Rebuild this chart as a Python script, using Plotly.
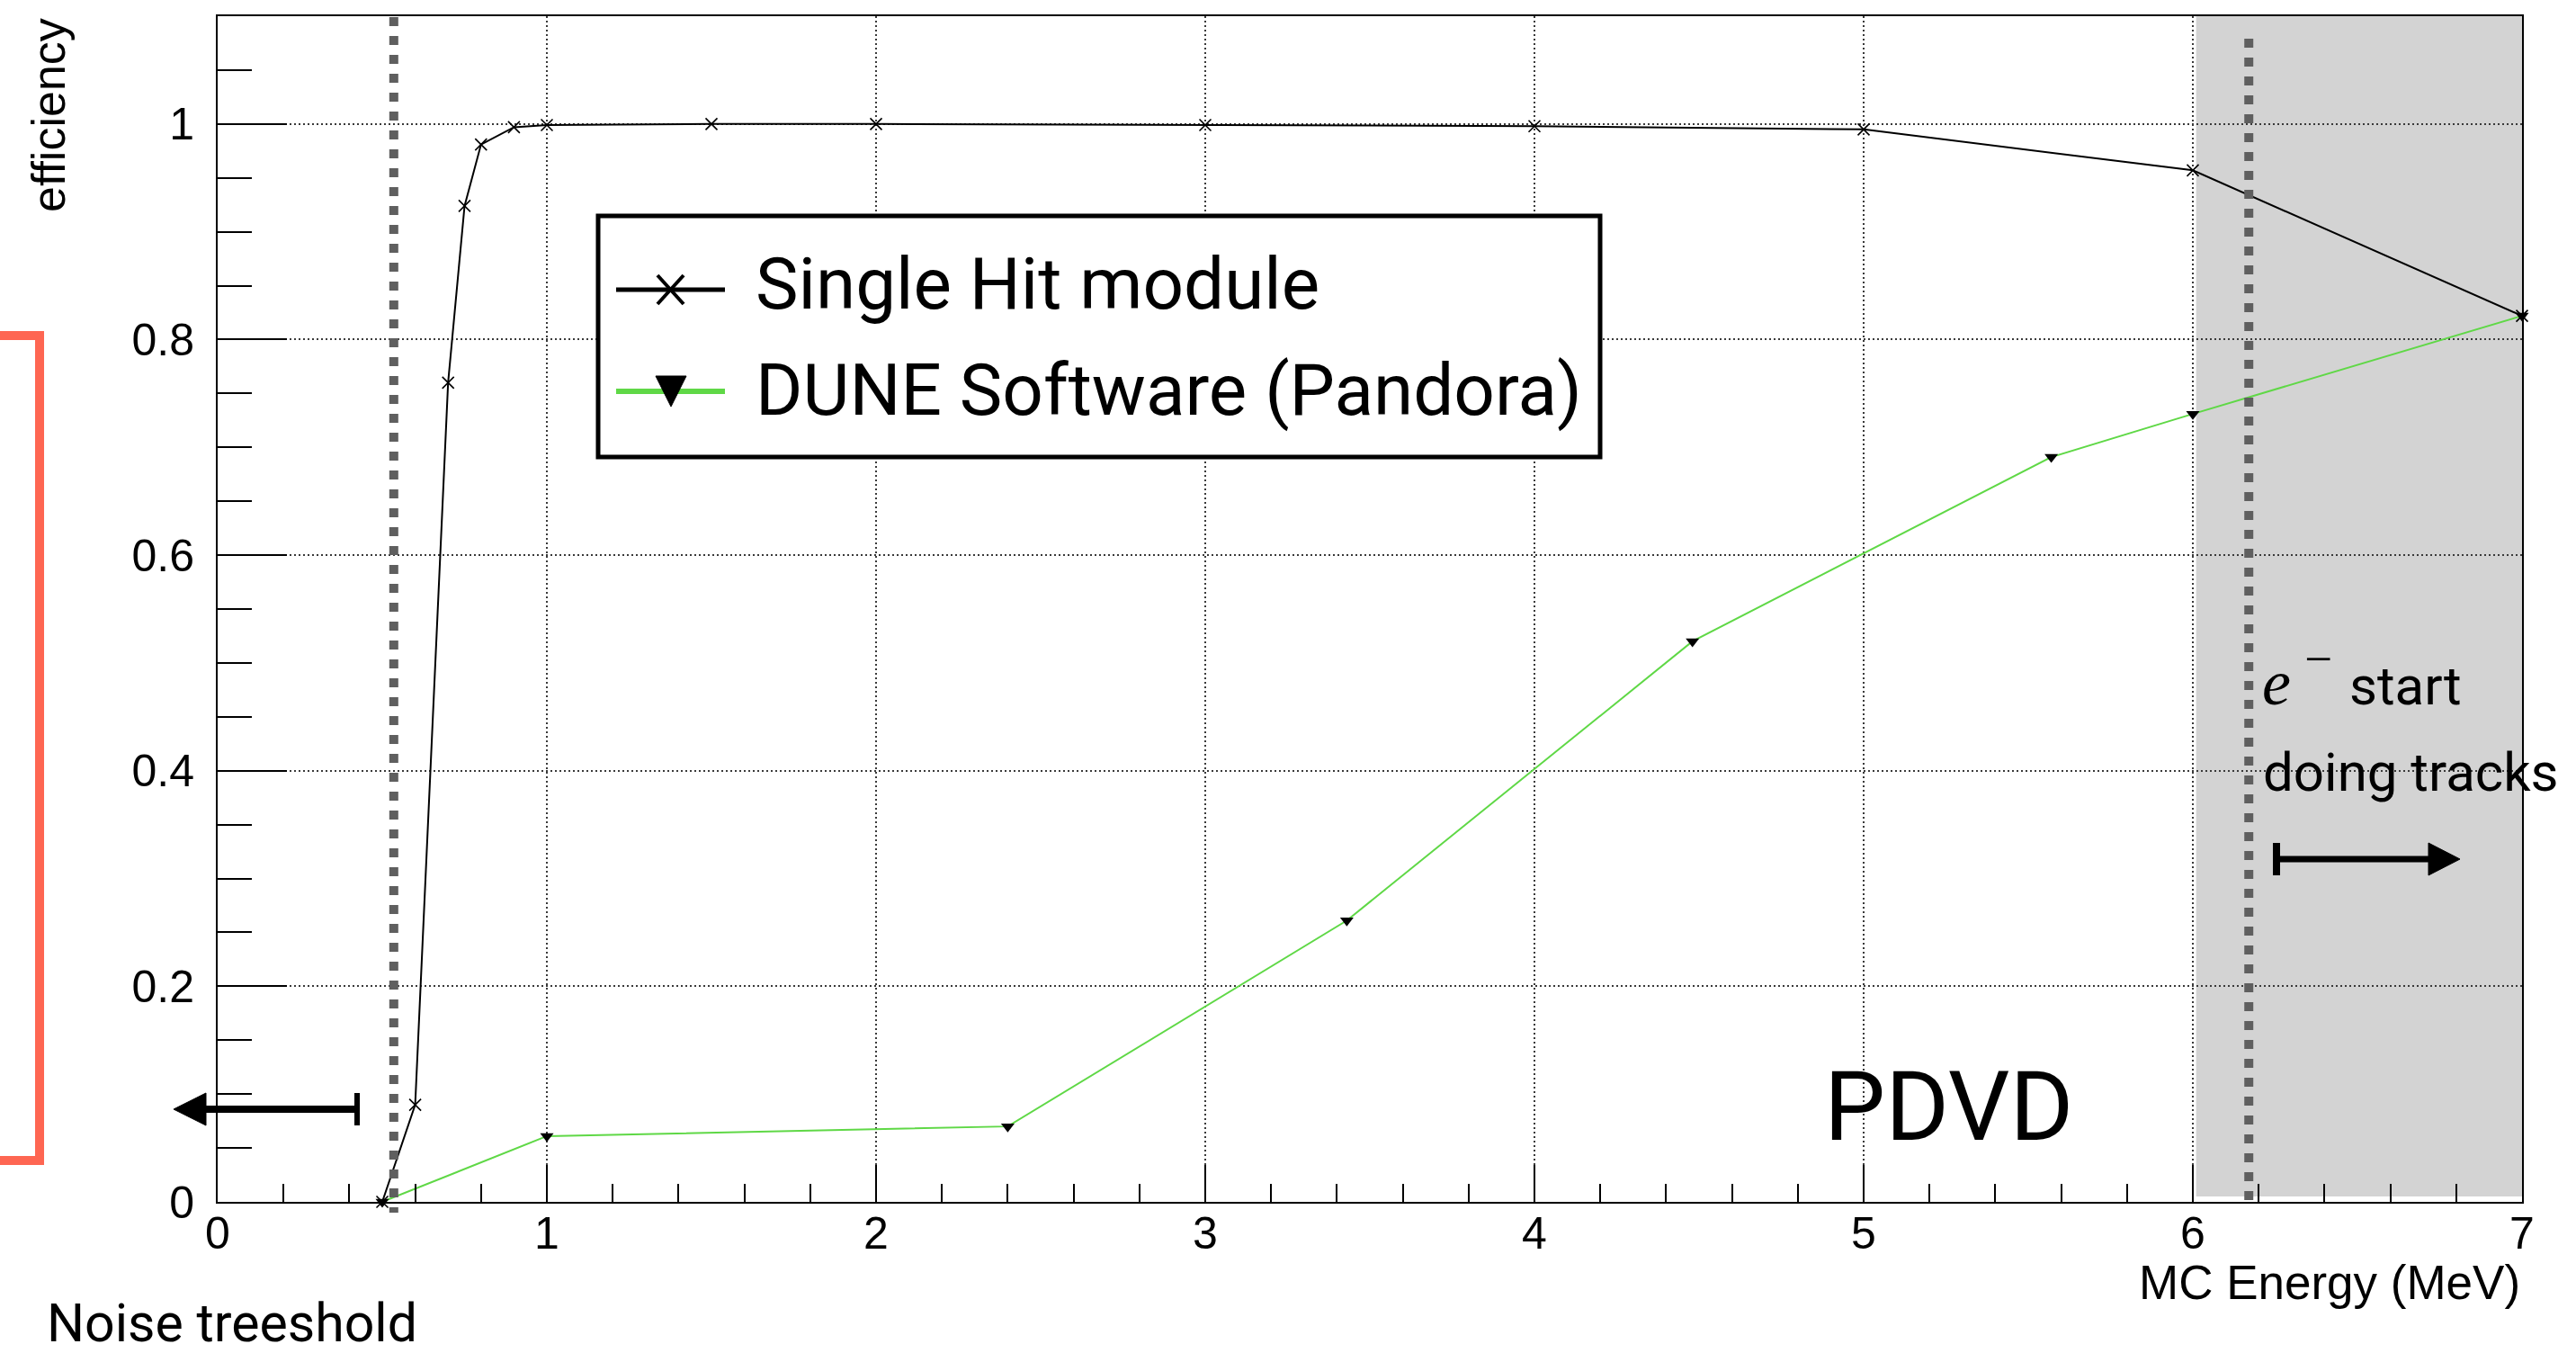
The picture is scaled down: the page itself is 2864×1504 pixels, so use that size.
import plotly.graph_objects as go

# ---- data -------------------------------------------------------------
energy_single = [0.5, 0.6, 0.7, 0.75, 0.8, 0.9, 1.0, 1.5, 2.0, 3.0, 4.0, 5.0, 6.0, 7.0]
eff_single = [0.0, 0.09, 0.76, 0.924, 0.981, 0.997, 0.999, 1.0, 1.0, 0.999, 0.998, 0.995, 0.957, 0.822]

energy_pandora = [0.5, 1.0, 2.4, 3.43, 4.48, 5.57, 6.0, 7.0]
eff_pandora = [0.0, 0.061, 0.070, 0.261, 0.520, 0.691, 0.731, 0.822]

x_ticks = [0, 1, 2, 3, 4, 5, 6, 7]
y_ticks = [0, 0.2, 0.4, 0.6, 0.8, 1.0]

NOISE_THRESHOLD = 0.535   # MeV
TRACK_ONSET = 6.17        # MeV
TRACK_REGION = (6.01, 7.0)

# ---- canvas geometry --------------------------------------------------
W, H = 2864, 1504
ML, MR, MT, MB = 242, 60, 18, 168
PW, PH = W - ML - MR, H - MT - MB
X_RANGE = (0.0, 7.0)
Y_RANGE = (0.0, 1.1)


def px(x):
    """canvas pixel column -> paper x"""
    return (x - ML) / PW


def py(y):
    """canvas pixel row -> paper y"""
    return (H - MB - y) / PH


def dx(v):
    """data x -> paper x"""
    return (v - X_RANGE[0]) / (X_RANGE[1] - X_RANGE[0])


AXIS_FONT = "Liberation Sans, Arial, sans-serif"
LABEL_FONT = "Roboto, sans-serif"
MATH_FONT = "Liberation Serif, serif"
GREEN = "#5fd846"

fig = go.Figure()

fig.add_trace(go.Scatter(
    x=energy_single, y=eff_single, mode="lines+markers",
    name="Single Hit module",
    line=dict(color="black", width=2),
    marker=dict(symbol="x-thin", size=13, color="black",
                line=dict(width=1.6, color="black")),
    cliponaxis=False, showlegend=False,
))
fig.add_trace(go.Scatter(
    x=energy_pandora, y=eff_pandora, mode="lines+markers",
    name="DUNE Software (Pandora)",
    line=dict(color=GREEN, width=2),
    marker=dict(symbol="triangle-down", size=13, color="black"),
    cliponaxis=False, showlegend=False,
))

shapes = []

# shaded track region
shapes.append(dict(type="rect", xref="x", yref="y",
                   x0=TRACK_REGION[0], x1=TRACK_REGION[1], y0=0.005, y1=Y_RANGE[1],
                   fillcolor="#d3d3d3", line=dict(width=0), layer="below"))

# thick dashed markers for the threshold and track onset
shapes.append(dict(type="line", xref="paper", yref="paper",
                   x0=dx(NOISE_THRESHOLD), x1=dx(NOISE_THRESHOLD), y0=py(19), y1=py(1348),
                   line=dict(color="#5f5f5f", width=10, dash="10px,11px"), layer="above"))
shapes.append(dict(type="line", xref="paper", yref="paper",
                   x0=dx(TRACK_ONSET), x1=dx(TRACK_ONSET), y0=py(43), y1=py(1334),
                   line=dict(color="#5f5f5f", width=10, dash="10px,11px"), layer="above"))

# legend box
shapes.append(dict(type="rect", xref="paper", yref="paper",
                   x0=px(665), x1=px(1779), y0=py(240), y1=py(508),
                   fillcolor="white", line=dict(color="black", width=5), layer="above"))
# legend row 1: black line with x marker
shapes.append(dict(type="line", xref="paper", yref="paper",
                   x0=px(685), x1=px(806), y0=py(322), y1=py(322),
                   line=dict(color="black", width=5), layer="above"))
shapes.append(dict(type="line", xref="paper", yref="paper",
                   x0=px(731), x1=px(760), y0=py(306), y1=py(338),
                   line=dict(color="black", width=4), layer="above"))
shapes.append(dict(type="line", xref="paper", yref="paper",
                   x0=px(731), x1=px(760), y0=py(338), y1=py(306),
                   line=dict(color="black", width=4), layer="above"))
# legend row 2: green line with down triangle
shapes.append(dict(type="line", xref="paper", yref="paper",
                   x0=px(685), x1=px(806), y0=py(435), y1=py(435),
                   line=dict(color=GREEN, width=6), layer="above"))
shapes.append(dict(type="path", xref="paper", yref="paper",
                   path=f"M {px(729)},{py(418)} L {px(763)},{py(418)} L {px(746)},{py(452)} Z",
                   fillcolor="black", line=dict(color="black", width=1), layer="above"))

# left arrow (below the noise threshold)
shapes.append(dict(type="line", xref="paper", yref="paper",
                   x0=px(398), x1=px(224), y0=py(1233), y1=py(1233),
                   line=dict(color="black", width=8), layer="above"))
shapes.append(dict(type="line", xref="paper", yref="paper",
                   x0=px(397), x1=px(397), y0=py(1215), y1=py(1251),
                   line=dict(color="black", width=6), layer="above"))
shapes.append(dict(type="path", xref="paper", yref="paper",
                   path=f"M {px(229)},{py(1215)} L {px(229)},{py(1251)} L {px(193)},{py(1233)} Z",
                   fillcolor="black", line=dict(color="black", width=1), layer="above"))

# right arrow (track region)
shapes.append(dict(type="line", xref="paper", yref="paper",
                   x0=px(2528), x1=px(2704), y0=py(955), y1=py(955),
                   line=dict(color="black", width=7), layer="above"))
shapes.append(dict(type="line", xref="paper", yref="paper",
                   x0=px(2531), x1=px(2531), y0=py(937), y1=py(973),
                   line=dict(color="black", width=8), layer="above"))
shapes.append(dict(type="path", xref="paper", yref="paper",
                   path=f"M {px(2700)},{py(937)} L {px(2700)},{py(973)} L {px(2735)},{py(955)} Z",
                   fillcolor="black", line=dict(color="black", width=1), layer="above"))

# red bracket on the left margin
shapes.append(dict(type="path", xref="paper", yref="paper",
                   path=f"M {px(-5)},{py(373)} L {px(44)},{py(373)} L {px(44)},{py(1290)} L {px(-5)},{py(1290)}",
                   line=dict(color="#fe6652", width=10), layer="above"))


def label(text, x, y, size, family=LABEL_FONT, xanchor="left", **kw):
    return dict(text=text, xref="paper", yref="paper", x=px(x), y=py(y),
                xanchor=xanchor, yanchor="middle", showarrow=False,
                font=dict(family=family, size=size, color="black"), **kw)


annotations = [
    dict(text="efficiency", textangle=-90, xref="paper", yref="paper",
         x=px(54), y=py(18), xanchor="center", yanchor="top", showarrow=False,
         font=dict(family=AXIS_FONT, size=52, color="black")),
    dict(text="MC Energy (MeV)", xref="paper", yref="paper",
         x=1.0, y=py(1425), xanchor="right", yanchor="middle", showarrow=False,
         font=dict(family=AXIS_FONT, size=53, color="black")),
    label("Noise treeshold", 50, 1470, 59),
    label("PDVD", 2026, 1230, 108),
    label("<i>e</i>", 2513, 759, 72, family=MATH_FONT),
    label("−", 2577, 732, 55, family=MATH_FONT, xanchor="center"),
    label("start", 2610, 763, 60),
    label("doing tracks", 2514, 858, 60),
    label("Single Hit module", 838, 316, 80),
    label("DUNE Software (Pandora)", 838, 434, 80),
]

axis_common = dict(
    showline=True, linecolor="black", linewidth=2, mirror=True,
    ticks="inside", tickcolor="black", tickwidth=2,
    showgrid=True, gridcolor="#3a3a3a", gridwidth=1.5, griddash="2px,3px",
    zeroline=False,
    tickfont=dict(family=AXIS_FONT, size=50, color="black"),
)

fig.update_layout(
    width=W, height=H,
    margin=dict(l=ML, r=MR, t=MT, b=MB, pad=0),
    paper_bgcolor="white", plot_bgcolor="white",
    showlegend=False,
    xaxis=dict(range=list(X_RANGE), tickmode="array", tickvals=x_ticks,
               ticklen=41, ticklabelstandoff=-10,
               minor=dict(tick0=0, dtick=0.2, ticks="inside", ticklen=20,
                          tickwidth=2, tickcolor="black", showgrid=False),
               **axis_common),
    yaxis=dict(range=list(Y_RANGE), tickmode="array", tickvals=y_ticks,
               ticklen=77, ticklabelstandoff=14,
               minor=dict(tick0=0, dtick=0.05, ticks="inside", ticklen=38,
                          tickwidth=2, tickcolor="black", showgrid=False),
               **axis_common),
    shapes=shapes,
    annotations=annotations,
)

fig.write_html("out.html")
